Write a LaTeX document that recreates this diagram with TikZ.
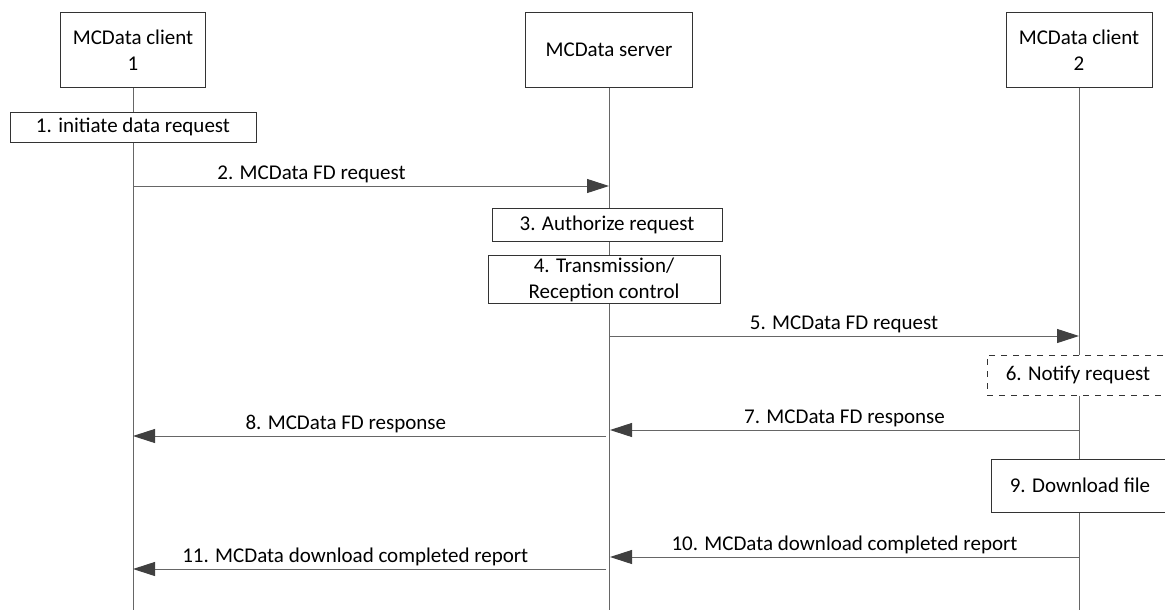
\documentclass[tikz,border=0pt]{standalone}
\usepackage{fontspec}
\setmainfont{Carlito}
\usetikzlibrary{arrows.meta,positioning}

\begin{document}
\begin{tikzpicture}[x=0.5pt,y=-0.5pt,font=\fontsize{10.5}{13}\selectfont,
    entity/.style={rectangle, draw=black!80, line width=0.5pt, fill=white, minimum width=#1, minimum height=37.5pt, align=center, inner sep=1pt},
    action/.style={rectangle, draw=black!80, line width=0.5pt, fill=white, align=center, inner sep=1pt},
    life/.style={draw=black!60, line width=0.5pt},
    msg/.style={draw=black!60, line width=0.5pt, -{Triangle[length=11pt,width=7pt,color=black!75]}},
    lbl/.style={above=1pt, inner sep=0.5pt, pos=#1},
    lbl/.default=0.5]
    \useasboundingbox (0,0) rectangle (1165,610);
    % entities
    \node[entity=72.5pt] (c1) at (133,50) {MCData client\\1};
    \node[entity=83.5pt] (srv) at (609,50) {MCData server};
    \node[entity=73pt] (c2) at (1079,50) {MCData client\\2};
    % local actions
    \node[action, minimum width=123pt, minimum height=15pt] (b1) at (133,127) {1. initiate data request};
    \node[action, minimum width=115pt, minimum height=16.5pt] (b3) at (607,224.5) {3. Authorize request};
    \node[action, minimum width=116pt, minimum height=21.5pt] (b4) at (604,279.5) {4. Transmission/\\Reception control};
    \node[action, dashed, minimum width=91pt, minimum height=20pt] (b6) at (1078,375) {6. Notify request};
    \node[action, minimum width=89pt, minimum height=26.5pt] (b9) at (1080,485.5) {9. Download file};
    % lifelines
    \coordinate (e1) at (133,610);
    \coordinate (e2) at (609,610);
    \coordinate (e3) at (1079,610);
    \draw[life] (c1.south) -- (b1.north);
    \draw[life] (b1.south) -- (e1);
    \draw[life] (srv.south) -- (b3.north -| srv);
    \draw[life] (b3.south -| srv) -- (b4.north -| srv);
    \draw[life] (b4.south -| srv) -- (e2);
    \draw[life] (c2.south) -- (b6.north -| c2);
    \draw[life] (b6.south -| c2) -- (b9.north -| c2);
    \draw[life] (b9.south -| c2) -- (e3);
    % messages
    \coordinate (m2a) at (133,186);  \coordinate (m2b) at (609,186);
    \coordinate (m5a) at (609,336);  \coordinate (m5b) at (1079,336);
    \coordinate (m7a) at (1079,430); \coordinate (m7b) at (610,430);
    \coordinate (m8a) at (606,436);  \coordinate (m8b) at (133,436);
    \coordinate (m10a) at (1079,557); \coordinate (m10b) at (610,557);
    \coordinate (m11a) at (606,569);  \coordinate (m11b) at (133,569);
    \draw[msg] (m2a) -- node[lbl=0.375] {2. MCData FD request} (m2b);
    \draw[msg] (m5a) -- node[lbl] {5. MCData FD request} (m5b);
    \draw[msg] (m7a) -- node[lbl] {7. MCData FD response} (m7b);
    \draw[msg] (m8a) -- node[lbl=0.55] {8. MCData FD response} (m8b);
    \draw[msg] (m10a) -- node[lbl] {10. MCData download completed report} (m10b);
    \draw[msg] (m11a) -- node[lbl=0.53] {11. MCData download completed report} (m11b);
\end{tikzpicture}
\end{document}
